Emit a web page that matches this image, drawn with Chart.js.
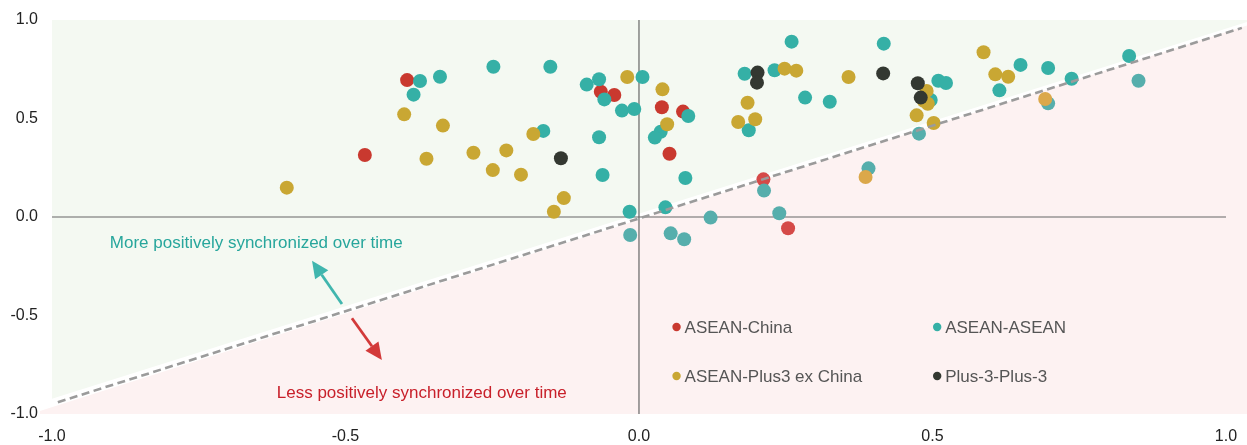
<!DOCTYPE html>
<html>
<head>
<meta charset="utf-8">
<script src="https://cdn.jsdelivr.net/npm/chart.js@4.4.1/dist/chart.umd.min.js"></script>
<style>
  html, body { margin: 0; padding: 0; background: #fff; overflow: hidden; }
  #chart { display: block; }
</style>
</head>
<body>
<canvas id="chart" width="1247" height="445"></canvas>
<script>
// tick labels
const xTicks = [-1, -0.5, 0, 0.5, 1];
const yTicks = [-1, -0.5, 0, 0.5, 1];

// ASEAN-China
const chinaX = [-0.467, -0.395, -0.065, -0.042, 0.039, 0.075, 0.052, 0.212, 0.254];
const chinaY = [0.315, 0.695, 0.636, 0.619, 0.557, 0.535, 0.321, 0.191, -0.057];

// ASEAN-ASEAN
const aseanX = [-0.373, -0.384, -0.339, -0.248, -0.151, -0.163, -0.089, -0.068, -0.059, 0.006,
  -0.029, -0.008, -0.068, -0.062, -0.016, -0.015, 0.084, 0.037, 0.027, 0.079,
  0.045, 0.054, 0.077, 0.122, 0.260, 0.180, 0.231, 0.283, 0.325, 0.187,
  0.213, 0.239, 0.417, 0.497, 0.477, 0.510, 0.523, 0.650, 0.614, 0.697,
  0.737, 0.697, 0.835, 0.851, 0.391];
const aseanY = [0.690, 0.621, 0.712, 0.763, 0.763, 0.437, 0.672, 0.699, 0.597, 0.711,
  0.540, 0.548, 0.405, 0.213, 0.027, -0.091, 0.513, 0.433, 0.403, 0.198,
  0.049, -0.083, -0.113, -0.003, 0.890, 0.727, 0.745, 0.606, 0.585, 0.440,
  0.134, 0.019, 0.880, 0.594, 0.423, 0.692, 0.680, 0.772, 0.643, 0.756,
  0.702, 0.577, 0.817, 0.692, 0.247];

// ASEAN-Plus3 ex China
const plus3X = [-0.600, -0.400, -0.334, -0.362, -0.180, -0.282, -0.226, -0.249, -0.201, -0.128,
  -0.145, -0.020, 0.040, 0.048, 0.248, 0.268, 0.357, 0.185, 0.169, 0.198,
  0.490, 0.492, 0.485, 0.473, 0.502, 0.587, 0.607, 0.629, 0.692, 0.386];
const plus3Y = [0.149, 0.521, 0.464, 0.296, 0.421, 0.326, 0.338, 0.238, 0.215, 0.096,
  0.027, 0.711, 0.648, 0.471, 0.753, 0.743, 0.711, 0.580, 0.482, 0.496,
  0.640, 0.575, 0.590, 0.516, 0.477, 0.836, 0.724, 0.712, 0.599, 0.203];

// Plus-3-Plus-3
const p3p3X = [-0.133, 0.202, 0.201, 0.416, 0.475, 0.480];
const p3p3Y = [0.298, 0.733, 0.682, 0.729, 0.679, 0.606];

// dashed divider and shaded regions
const diagX = [-0.99, 1.027];
const diagY = [-0.94, 0.96];
const greenEdgeX = [-1, 1.036];
const greenEdgeY = [-0.922, 0.99];
const pinkEdgeX = [-1.0204, 1.036];
const pinkEdgeY = [-0.985, 0.972];
const zeroLineX = [-1, 1];
const zeroLineY = [-1, 1];

const slope = (diagY[1] - diagY[0]) / (diagX[1] - diagX[0]);
const pts = (xs, ys) => xs.map((v, i) => ({ x: v, y: ys[i] }));
const below = p => p && p.y < slope * p.x;

function series(label, xs, ys, color, light, order) {
  return {
    type: 'scatter', label, data: pts(xs, ys), order,
    backgroundColor: c => below(c.raw) ? light : color,
    borderWidth: 0, pointRadius: 7, pointHoverRadius: 7,
    legendColor: color
  };
}

const font = "'Liberation Sans', Arial, sans-serif";
Chart.defaults.font.family = font;

const overlay = {
  id: 'overlay',
  afterDatasetsDraw(chart) {
    const { ctx, scales: { x, y } } = chart;
    ctx.save();
    ctx.font = '17px ' + font;
    ctx.textBaseline = 'middle';
    ctx.textAlign = 'center';
    ctx.fillStyle = '#27a69c';
    ctx.fillText('More positively synchronized over time', x.getPixelForValue(-0.652), y.getPixelForValue(-0.132));
    ctx.fillStyle = '#c8202a';
    ctx.fillText('Less positively synchronized over time', x.getPixelForValue(-0.370), y.getPixelForValue(-0.893));

    const arrow = (x0, y0, x1, y1, color) => {
      const ax = x.getPixelForValue(x0), ay = y.getPixelForValue(y0);
      const bx = x.getPixelForValue(x1), by = y.getPixelForValue(y1);
      const ang = Math.atan2(by - ay, bx - ax);
      const hl = 17, hw = 8;
      const sx = bx - hl * Math.cos(ang), sy = by - hl * Math.sin(ang);
      ctx.strokeStyle = color; ctx.fillStyle = color; ctx.lineWidth = 2.8;
      ctx.beginPath(); ctx.moveTo(ax, ay); ctx.lineTo(sx, sy); ctx.stroke();
      ctx.beginPath();
      ctx.moveTo(bx, by);
      ctx.lineTo(sx + hw * Math.sin(ang), sy - hw * Math.cos(ang));
      ctx.lineTo(sx - hw * Math.sin(ang), sy + hw * Math.cos(ang));
      ctx.closePath(); ctx.fill();
    };
    arrow(-0.506, -0.442, -0.557, -0.222, '#40b6ae');
    arrow(-0.489, -0.514, -0.438, -0.726, '#d33a3a');

    // legend, 2 x 2 inside the plot
    const items = chart.data.datasets.filter(d => d.legendColor);
    const cols = [0.064, 0.508], rows = [-0.558, -0.807];
    const order = ['ASEAN-China', 'ASEAN-ASEAN', 'ASEAN-Plus3 ex China', 'Plus-3-Plus-3'];
    ctx.textAlign = 'left';
    order.forEach((name, i) => {
      const d = items.find(s => s.label === name);
      const px = x.getPixelForValue(cols[i % 2]), py = y.getPixelForValue(rows[Math.floor(i / 2)]);
      ctx.fillStyle = d.legendColor;
      ctx.beginPath(); ctx.arc(px, py, 4.2, 0, Math.PI * 2); ctx.fill();
      ctx.fillStyle = '#555';
      ctx.fillText(name, px + 8, py + 1);
    });
    ctx.restore();
  }
};

new Chart(document.getElementById('chart'), {
  type: 'scatter',
  data: {
    datasets: [
      { type: 'line', label: 'div', data: pts(diagX, diagY), order: 0,
        borderColor: '#9b9b9b', borderWidth: 2.6, borderDash: [8, 4.5], pointRadius: 0, fill: false },
      series('Plus-3-Plus-3', p3p3X, p3p3Y, '#333831', '#3d3d3d', 1),
      series('ASEAN-Plus3 ex China', plus3X, plus3Y, '#c9a733', '#dba84a', 2),
      series('ASEAN-ASEAN', aseanX, aseanY, '#35b0a6', '#56aeac', 3),
      series('ASEAN-China', chinaX, chinaY, '#c9392f', '#d54a48', 4),
      { type: 'line', label: 'xaxis', data: pts(zeroLineX, [0, 0]), order: 5,
        borderColor: '#666', borderWidth: 1.2, pointRadius: 0, fill: false },
      { type: 'line', label: 'yaxis', data: pts([0, 0], zeroLineY), order: 6,
        borderColor: '#666', borderWidth: 1.2, pointRadius: 0, fill: false },
      { type: 'line', label: 'pink', data: pts(pinkEdgeX, pinkEdgeY), order: 7,
        borderWidth: 0, pointRadius: 0, fill: 'start', backgroundColor: '#fdf2f2' },
      { type: 'line', label: 'green', data: pts(greenEdgeX, greenEdgeY), order: 8,
        borderWidth: 0, pointRadius: 0, fill: 'end', backgroundColor: '#f4f9f2' }
    ]
  },
  options: {
    responsive: false,
    animation: false,
    layout: { autoPadding: false, padding: { top: 20, right: 0, left: 0, bottom: 0 } },
    plugins: { legend: { display: false }, tooltip: { enabled: false } },
    scales: {
      x: {
        type: 'linear', min: -1.0204, max: 1.0358,
        grid: { display: false, drawTicks: false }, border: { display: false },
        afterBuildTicks: s => { s.ticks = xTicks.map(v => ({ value: v })); },
        afterFit: s => { s.height = 31; s.paddingLeft = 0; s.paddingRight = 0; },
        ticks: { padding: 13, color: '#222', font: { size: 16 }, maxRotation: 0,
          callback: v => v.toFixed(1) }
      },
      y: {
        type: 'linear', min: -1, max: 1,
        grid: { display: false, drawTicks: false }, border: { display: false },
        afterBuildTicks: s => { s.ticks = yTicks.map(v => ({ value: v })); },
        afterFit: s => { s.width = 40; s.paddingTop = 0; s.paddingBottom = 0; },
        ticks: { padding: 2, color: '#222', font: { size: 16 }, callback: v => v.toFixed(1) }
      }
    }
  },
  plugins: [overlay]
});
</script>
</body>
</html>
